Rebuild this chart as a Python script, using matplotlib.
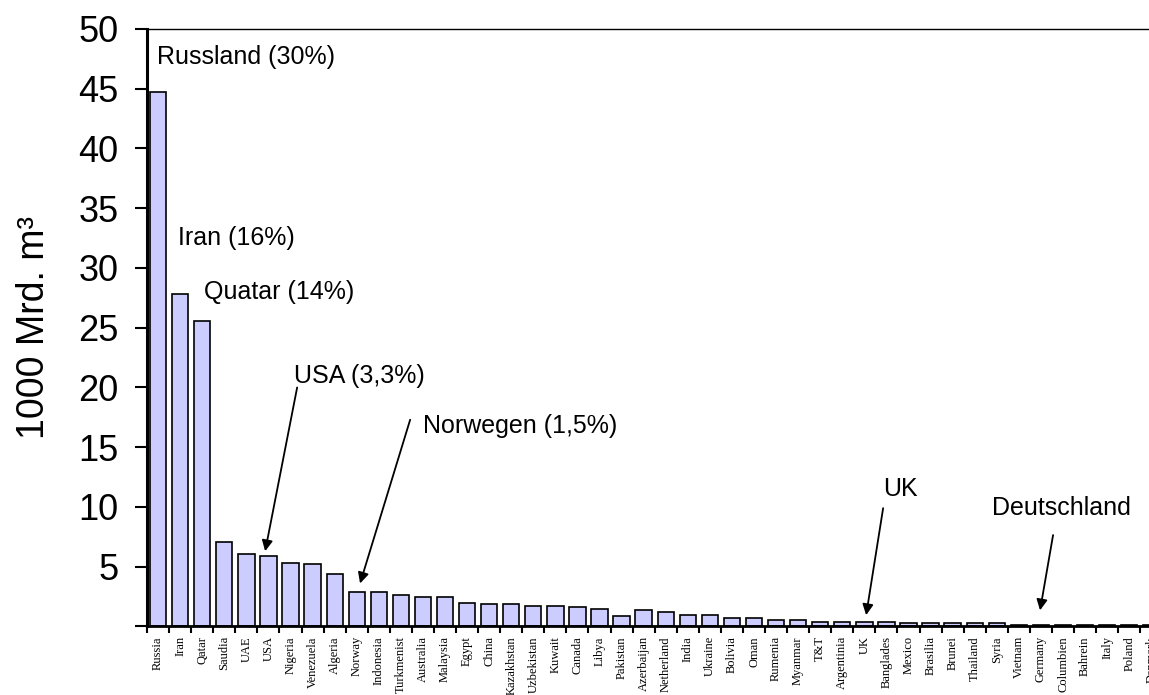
import numpy as np
import matplotlib
matplotlib.use("Agg")
import matplotlib.pyplot as plt

plt.rcParams["font.family"] = ["Liberation Sans", "DejaVu Sans"]

# natural gas reserves (1000 Mrd. m3)
countries = ["Russia", "Iran", "Qatar", "Saudia", "UAE", "USA", "Nigeria",
             "Venezuela", "Algeria", "Norway", "Indonesia", "Turkmenist",
             "Australia", "Malaysia", "Egypt", "China", "Kazakhstan",
             "Uzbekistan", "Kuwait", "Canada", "Libya", "Pakistan",
             "Azerbaijan", "Netherland", "India", "Ukraine", "Bolivia", "Oman",
             "Rumenia", "Myanmar", "T&T", "Argentinia", "UK", "Banglades",
             "Mexico", "Brasilia", "Brunei", "Thailand", "Syria", "Vietnam",
             "Germany", "Columbien", "Bahrein", "Italy", "Poland", "Denmark"]
reserves = [44.7, 27.8, 25.6, 7.1, 6.1, 5.9, 5.3,
            5.2, 4.4, 2.9, 2.9, 2.65,
            2.5, 2.5, 2.0, 1.9, 1.9,
            1.75, 1.75, 1.6, 1.45, 0.85,
            1.35, 1.2, 1.0, 1.0, 0.7, 0.7,
            0.55, 0.55, 0.4, 0.4, 0.4, 0.4,
            0.3, 0.3, 0.3, 0.3, 0.3, 0.12,
            0.12, 0.12, 0.12, 0.12, 0.12, 0.1]

fig = plt.figure(figsize=(11.49, 6.95), dpi=100)
ax = fig.add_axes([0.128, 0.0986, 0.8836, 0.8597])

x = np.arange(len(countries))
ax.bar(x, reserves, width=0.74, color="#ccccff", edgecolor="black",
       linewidth=1.2)

ax.set_xlim(-0.5, len(countries) - 0.5)
ax.set_ylim(0, 50)

# category ticks sit between the bars, labels in the middle
ax.set_xticks(np.arange(len(countries) + 1) - 0.5)
ax.set_xticklabels([])
ax.set_xticks(x, minor=True)
ax.set_xticklabels(countries, minor=True, rotation=90,
                   fontfamily="Liberation Serif", fontsize=9, va="top")
ax.tick_params(axis="x", which="major", direction="out", length=5,
               width=1.5)
ax.tick_params(axis="x", which="minor", length=0, pad=7)

yt = np.arange(0, 51, 5)
ax.set_yticks(yt)
ax.set_yticklabels([""] + [str(v) for v in yt[1:]], fontsize=26)
ax.tick_params(axis="y", direction="out", length=8.6, width=1.5, pad=12)
ax.set_ylabel("1000 Mrd. m³", fontsize=27, labelpad=19)

ax.spines["left"].set_linewidth(2.2)
ax.spines["bottom"].set_linewidth(2)
ax.spines["top"].set_linewidth(1)
ax.spines["right"].set_visible(False)

fs = 18
ax.text(-0.05, 47.1, "Russland (30%)", fontsize=fs)
ax.text(0.9, 31.9, "Iran (16%)", fontsize=fs)
ax.text(2.08, 27.4, "Quatar (14%)", fontsize=fs)
ax.text(6.16, 20.4, "USA (3,3%)", fontsize=fs)
ax.text(12.0, 16.2, "Norwegen (1,5%)", fontsize=fs)
ax.text(32.85, 10.93, "UK", fontsize=fs)
ax.text(37.79, 9.34, "Deutschland", fontsize=fs)

arrow = dict(arrowstyle="-|>", color="black", lw=1.3, mutation_scale=16,
             shrinkA=0, shrinkB=0)
ax.annotate("", xy=(4.85, 6.3), xytext=(6.3, 20.0), arrowprops=arrow)
ax.annotate("", xy=(9.15, 3.6), xytext=(11.42, 17.3), arrowprops=arrow)
ax.annotate("", xy=(32.08, 0.95), xytext=(32.85, 9.9), arrowprops=arrow)
ax.annotate("", xy=(39.96, 1.35), xytext=(40.55, 7.65), arrowprops=arrow)

fig.savefig("out.png", dpi=100)
